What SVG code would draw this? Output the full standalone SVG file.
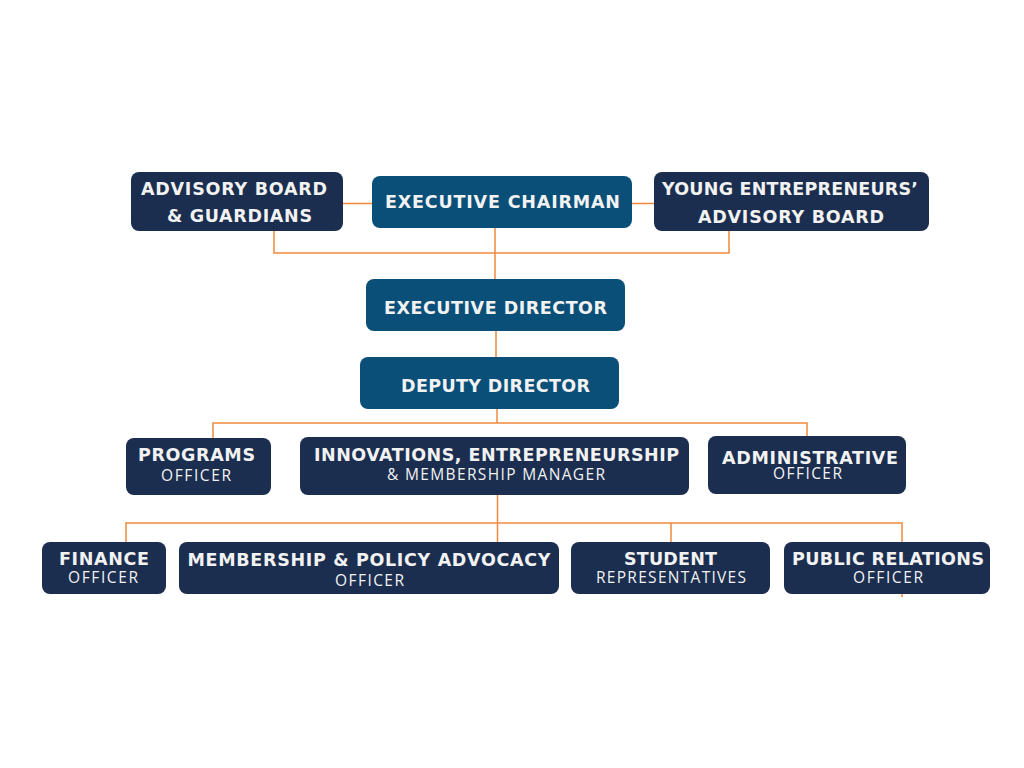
<svg xmlns="http://www.w3.org/2000/svg" width="1024" height="768" viewBox="0 0 1024 768">
<style>
.navy{fill:#1b2e4f}
.blue{fill:#0a4f78}
.t{font-family:"DejaVu Sans","Open Sans",sans-serif;font-weight:700;font-size:17.5px;fill:#f2f2f2;text-anchor:middle}
.s{font-family:"Open Sans","Liberation Sans",sans-serif;font-weight:400;font-size:15.5px;fill:#f2f2f2;text-anchor:middle}
.c{fill:none;stroke:#f08a3c;stroke-width:1.5}
</style>
<rect width="1024" height="768" fill="#ffffff"/>
<g id="connectors">
<path class="c" d="M343 203.5H372"/>
<path class="c" d="M632 203.5H655"/>
<path class="c" d="M274 231V253H729V231"/>
<path class="c" d="M495 228V280"/>
<path class="c" d="M496 331V357"/>
<path class="c" d="M497 409V423"/>
<path class="c" d="M213 438V423H807V436"/>
<path class="c" d="M497.5 495V542"/>
<path class="c" d="M126 542V523H902V597"/>
<path class="c" d="M671 523V542"/>
</g>
<g id="advisory-board">
<rect class="navy" x="131" y="172" width="212" height="59" rx="8"/>
<text class="t" x="234" y="195" textLength="186">ADVISORY BOARD</text>
<text class="t" x="239.5" y="222" textLength="145">&amp; GUARDIANS</text>
</g>
<g id="executive-chairman">
<rect class="blue" x="372" y="176" width="260" height="52" rx="8"/>
<text class="t" x="502.5" y="208" textLength="235">EXECUTIVE CHAIRMAN</text>
</g>
<g id="young-entrepreneurs">
<rect class="navy" x="654" y="172" width="275" height="59" rx="8"/>
<text class="t" x="790" y="195" textLength="256">YOUNG ENTREPRENEURS’</text>
<text class="t" x="791" y="223" textLength="186">ADVISORY BOARD</text>
</g>
<g id="executive-director">
<rect class="blue" x="366" y="279" width="259" height="52" rx="8"/>
<text class="t" x="495.5" y="314" textLength="223">EXECUTIVE DIRECTOR</text>
</g>
<g id="deputy-director">
<rect class="blue" x="360" y="357" width="259" height="52" rx="8"/>
<text class="t" x="495.5" y="392" textLength="189">DEPUTY DIRECTOR</text>
</g>
<g id="programs-officer">
<rect class="navy" x="126" y="438" width="145" height="57" rx="8"/>
<text class="t" x="196.5" y="461" textLength="117">PROGRAMS</text>
<text class="s" x="196" y="481" textLength="70">OFFICER</text>
</g>
<g id="innovations-manager">
<rect class="navy" x="300" y="437" width="389" height="58" rx="8"/>
<text class="t" x="496.5" y="461" textLength="365">INNOVATIONS, ENTREPRENEURSHIP</text>
<text class="s" x="496" y="480" textLength="218">&amp; MEMBERSHIP MANAGER</text>
</g>
<g id="administrative-officer">
<rect class="navy" x="708" y="436" width="198" height="58" rx="8"/>
<text class="t" x="810" y="464" textLength="176">ADMINISTRATIVE</text>
<text class="s" x="807.5" y="479" textLength="69">OFFICER</text>
</g>
<g id="finance-officer">
<rect class="navy" x="42" y="542" width="124" height="52" rx="8"/>
<text class="t" x="104" y="565" textLength="90">FINANCE</text>
<text class="s" x="103" y="583" textLength="70">OFFICER</text>
</g>
<g id="membership-officer">
<rect class="navy" x="179" y="542" width="380" height="52" rx="8"/>
<text class="t" x="369" y="565.5" textLength="363">MEMBERSHIP &amp; POLICY ADVOCACY</text>
<text class="s" x="369.5" y="585.5" textLength="69">OFFICER</text>
</g>
<g id="student-representatives">
<rect class="navy" x="571" y="542" width="199" height="52" rx="8"/>
<text class="t" x="670.5" y="565" textLength="93">STUDENT</text>
<text class="s" x="671" y="583" textLength="150">REPRESENTATIVES</text>
</g>
<g id="public-relations-officer">
<rect class="navy" x="784" y="542" width="206" height="52" rx="8"/>
<text class="t" x="888" y="565" textLength="192">PUBLIC RELATIONS</text>
<text class="s" x="888" y="583" textLength="70">OFFICER</text>
</g>
</svg>
